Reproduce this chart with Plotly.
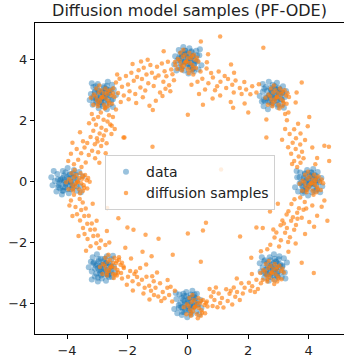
import plotly.graph_objects as go

# ---- data points (blue, 8 Gaussian modes): outer ring of each mode ----
data_x = [
 4.02,3.85,4.18,3.92,4.25,3.70,4.10,3.95,4.35,3.62,4.12,3.80,4.00,4.22,3.88,4.30,3.72,4.42,3.55,4.05,3.98,4.28,3.78,4.15,3.60,4.38,4.08,3.90,4.45,3.82,4.20,3.65,
 2.88,2.95,2.75,2.61,3.01,2.78,3.13,3.21,2.81,2.98,2.48,2.45,2.68,2.88,3.08,3.15,3.13,2.95,2.65,3.01,2.38,2.58,2.71,3.25,3.18,2.48,2.78,2.83,2.68,2.55,3.05,2.51,
 -0.02,0.15,-0.18,0.08,-0.25,0.30,-0.10,0.05,-0.35,0.38,-0.12,0.20,0.00,-0.22,0.12,-0.30,0.28,-0.42,0.45,-0.05,0.02,-0.28,0.22,-0.15,0.40,-0.38,-0.08,0.10,-0.45,0.18,-0.20,0.35,
 -2.88,-2.95,-2.75,-2.61,-3.01,-2.78,-3.13,-3.21,-2.81,-2.98,-2.48,-2.45,-2.68,-2.88,-3.08,-3.15,-3.13,-2.95,-2.65,-3.01,-2.38,-2.58,-2.71,-3.25,-3.18,-2.48,-2.78,-2.83,-2.68,-2.55,-3.05,-2.51,
 -4.02,-3.83,-4.21,-3.91,-4.29,-3.65,-4.12,-3.94,-4.40,-3.56,-4.14,-3.77,-4.00,-4.25,-3.86,-4.35,-3.68,-4.48,-3.48,-4.06,-3.98,-4.32,-3.75,-4.17,-3.54,-4.44,-4.09,-3.88,-4.52,-3.79,-4.23,-3.60,
 -2.78,-2.71,-2.91,-3.05,-2.65,-2.88,-2.53,-2.45,-2.85,-2.68,-3.18,-3.21,-2.98,-2.78,-2.58,-2.51,-2.53,-2.71,-3.01,-2.65,-3.28,-3.08,-2.95,-2.41,-2.48,-3.18,-2.88,-2.83,-2.98,-3.11,-2.61,-3.15,
 0.02,-0.15,0.18,-0.08,0.25,-0.30,0.10,-0.05,0.35,-0.38,0.12,-0.20,0.00,0.22,-0.12,0.30,-0.28,0.42,-0.45,0.05,-0.02,0.28,-0.22,0.15,-0.40,0.38,0.08,-0.10,0.45,-0.18,0.20,-0.35,
 2.81,2.98,2.65,2.91,2.58,3.13,2.73,2.88,2.48,3.21,2.71,3.03,2.83,2.61,2.95,2.53,3.11,2.41,3.28,2.78,2.85,2.55,3.05,2.68,3.23,2.45,2.75,2.93,2.38,3.01,2.63,3.18,
]
data_y = [
 0.05,0.12,-0.08,-0.22,0.18,-0.05,0.30,0.38,-0.02,0.15,-0.35,-0.38,-0.15,0.05,0.25,0.32,0.30,0.12,-0.18,0.18,-0.45,-0.25,-0.12,0.42,0.35,-0.35,-0.05,0.00,-0.15,-0.28,0.22,-0.32,
 2.85,2.68,3.01,2.75,3.08,2.53,2.93,2.78,3.18,2.45,2.95,2.63,2.83,3.05,2.71,3.13,2.55,3.25,2.38,2.88,2.81,3.11,2.61,2.98,2.43,3.21,2.91,2.73,3.28,2.65,3.03,2.48,
 4.05,4.12,3.92,3.78,4.18,3.95,4.30,4.38,3.98,4.15,3.65,3.62,3.85,4.05,4.25,4.32,4.30,4.12,3.82,4.18,3.55,3.75,3.88,4.42,4.35,3.65,3.95,4.00,3.85,3.72,4.22,3.68,
 2.81,2.98,2.65,2.91,2.58,3.13,2.73,2.88,2.48,3.21,2.71,3.03,2.83,2.61,2.95,2.53,3.11,2.41,3.28,2.78,2.85,2.55,3.05,2.68,3.23,2.45,2.75,2.93,2.38,3.01,2.63,3.18,
 -0.05,-0.12,0.08,0.22,-0.18,0.05,-0.30,-0.38,0.02,-0.15,0.35,0.38,0.15,-0.05,-0.25,-0.32,-0.30,-0.12,0.18,-0.18,0.45,0.25,0.12,-0.42,-0.35,0.35,0.05,0.00,0.15,0.28,-0.22,0.32,
 -2.85,-2.68,-3.01,-2.75,-3.08,-2.53,-2.93,-2.78,-3.18,-2.45,-2.95,-2.63,-2.83,-3.05,-2.71,-3.13,-2.55,-3.25,-2.38,-2.88,-2.81,-3.11,-2.61,-2.98,-2.43,-3.21,-2.91,-2.73,-3.28,-2.65,-3.03,-2.48,
 -3.95,-3.88,-4.08,-4.22,-3.82,-4.05,-3.70,-3.62,-4.02,-3.85,-4.35,-4.38,-4.15,-3.95,-3.75,-3.68,-3.70,-3.88,-4.18,-3.82,-4.45,-4.25,-4.12,-3.58,-3.65,-4.35,-4.05,-4.00,-4.15,-4.28,-3.78,-4.32,
 -2.88,-2.95,-2.75,-2.61,-3.01,-2.78,-3.13,-3.21,-2.81,-2.98,-2.48,-2.45,-2.68,-2.88,-3.08,-3.15,-3.13,-2.95,-2.65,-3.01,-2.38,-2.58,-2.71,-3.25,-3.18,-2.48,-2.78,-2.83,-2.68,-2.55,-3.05,-2.51,
]

# ---- data points (blue): dense core of each mode ----
core_x = [
 4.00,4.10,3.90,4.05,3.82,4.20,3.95,4.15,3.75,4.25,3.88,4.12,3.80,4.30,4.00,3.92,4.08,3.70,4.22,3.85,
 2.93,2.78,2.75,3.05,2.95,2.93,2.58,2.63,2.81,2.73,3.11,2.98,2.65,2.88,2.71,2.88,3.13,2.98,2.53,2.51,
 0.00,-0.10,0.10,-0.05,0.18,-0.20,0.05,-0.15,0.25,-0.25,0.12,-0.12,0.20,-0.30,0.00,0.08,-0.08,0.30,-0.22,0.15,
 -2.83,-2.93,-2.73,-2.88,-2.65,-3.03,-2.78,-2.98,-2.58,-3.08,-2.71,-2.95,-2.63,-3.13,-2.83,-2.75,-2.91,-2.53,-3.05,-2.68,
 -4.10,-3.95,-3.92,-4.22,-4.12,-4.10,-3.75,-3.80,-3.98,-3.90,-4.28,-4.15,-3.82,-4.05,-3.88,-4.05,-4.30,-4.15,-3.70,-3.68,
 -2.83,-2.73,-2.93,-2.78,-3.01,-2.63,-2.88,-2.68,-3.08,-2.58,-2.95,-2.71,-3.03,-2.53,-2.83,-2.91,-2.75,-3.13,-2.61,-2.98,
 0.00,0.10,-0.10,0.05,-0.18,0.20,-0.05,0.15,-0.25,0.25,-0.12,0.12,-0.20,0.30,0.00,-0.08,0.08,-0.30,0.22,-0.15,
 2.93,2.78,2.75,3.05,2.95,2.93,2.58,2.63,2.81,2.73,3.11,2.98,2.65,2.88,2.71,2.88,3.13,2.98,2.53,2.51,
]
core_y = [
 0.10,-0.05,-0.08,0.22,0.12,0.10,-0.25,-0.20,-0.02,-0.10,0.28,0.15,-0.18,0.05,-0.12,0.05,0.30,0.15,-0.30,-0.32,
 2.83,2.93,2.73,2.88,2.65,3.03,2.78,2.98,2.58,3.08,2.71,2.95,2.63,3.13,2.83,2.75,2.91,2.53,3.05,2.68,
 4.10,3.95,3.92,4.22,4.12,4.10,3.75,3.80,3.98,3.90,4.28,4.15,3.82,4.05,3.88,4.05,4.30,4.15,3.70,3.68,
 2.73,2.88,2.91,2.61,2.71,2.73,3.08,3.03,2.85,2.93,2.55,2.68,3.01,2.78,2.95,2.78,2.53,2.68,3.13,3.15,
 0.00,0.10,-0.10,0.05,-0.18,0.20,-0.05,0.15,-0.25,0.25,-0.12,0.12,-0.20,0.30,0.00,-0.08,0.08,-0.30,0.22,-0.15,
 -2.73,-2.88,-2.91,-2.61,-2.71,-2.73,-3.08,-3.03,-2.85,-2.93,-2.55,-2.68,-3.01,-2.78,-2.95,-2.78,-2.53,-2.68,-3.13,-3.15,
 -4.10,-3.95,-3.92,-4.22,-4.12,-4.10,-3.75,-3.80,-3.98,-3.90,-4.28,-4.15,-3.82,-4.05,-3.88,-4.05,-4.30,-4.15,-3.70,-3.68,
 -2.83,-2.73,-2.93,-2.78,-3.01,-2.63,-2.88,-2.68,-3.08,-2.58,-2.95,-2.71,-3.03,-2.53,-2.83,-2.91,-2.75,-3.13,-2.61,-2.98,
]

# ---- diffusion samples (orange) ----
samp_x = [
 # near the modes
 4.08,4.23,3.96,4.28,3.90,4.13,4.38,3.80,4.18,4.03,4.33,3.88,4.40,3.78,4.16,3.98,4.48,3.70,4.26,3.93,
 4.13,4.00,4.20,3.86,4.26,4.03,4.30,3.93,4.08,4.43,
 2.95,3.10,2.83,3.15,2.77,3.00,3.25,2.67,3.05,2.90,3.20,2.75,3.27,2.65,3.03,2.85,3.35,2.57,3.13,2.80,
 3.00,2.87,3.07,2.73,3.13,2.90,3.17,2.80,2.95,3.30,
 -0.05,0.10,-0.17,0.15,-0.23,0.00,0.25,-0.33,0.05,-0.10,0.20,-0.25,0.27,-0.35,0.03,-0.15,0.35,-0.43,0.13,-0.20,
 0.00,-0.13,0.07,-0.27,0.13,-0.10,0.17,-0.20,-0.05,0.30,
 -2.83,-2.68,-2.95,-2.63,-3.01,-2.78,-2.53,-3.11,-2.73,-2.88,-2.58,-3.03,-2.51,-3.13,-2.75,-2.93,-2.43,-3.21,-2.65,-2.98,
 -2.78,-2.91,-2.71,-3.05,-2.65,-2.88,-2.61,-2.98,-2.83,-2.48,
 -3.65,-3.50,-3.77,-3.45,-3.83,-3.60,-3.35,-3.93,-3.55,-3.70,-3.40,-3.85,-3.33,-3.95,-3.57,-3.75,-3.25,-4.03,-3.47,-3.80,
 -3.60,-3.73,-3.53,-3.87,-3.47,-3.70,-3.43,-3.80,-3.65,-3.30,
 -2.53,-2.38,-2.65,-2.33,-2.71,-2.48,-2.23,-2.81,-2.43,-2.58,-2.28,-2.73,-2.21,-2.83,-2.45,-2.63,-2.13,-2.91,-2.35,-2.68,
 -2.48,-2.61,-2.41,-2.75,-2.35,-2.58,-2.31,-2.68,-2.53,-2.18,
 0.25,0.40,0.13,0.45,0.07,0.30,0.55,-0.03,0.35,0.20,0.50,0.05,0.57,-0.05,0.33,0.15,0.65,-0.13,0.43,0.10,
 0.30,0.17,0.37,0.03,0.43,0.20,0.47,0.10,0.25,0.60,
 2.78,2.93,2.66,2.98,2.60,2.83,3.08,2.50,2.88,2.73,3.03,2.58,3.10,2.48,2.86,2.68,3.18,2.40,2.96,2.63,
 2.83,2.70,2.90,2.56,2.96,2.73,3.00,2.63,2.78,3.13,
 # top-left arc
 -2.47,-2.38,-2.31,-2.26,-2.18,-2.12,-2.05,-1.98,-1.93,-1.87,-1.79,-1.74,-1.68,-1.63,-1.57,-1.52,-1.46,-1.41,-1.37,-1.31,
 -1.24,-1.19,-1.13,-1.08,-1.02,-0.97,-0.92,-0.86,-0.81,-0.77,-0.71,-0.66,-0.62,-0.55,-0.51,-0.46,-0.41,-2.22,-1.96,-1.71,
 -1.49,-1.27,-1.06,-0.84,-0.58,-2.34,-1.83,-1.55,-1.16,-0.74,
 -1.33,-0.80,0.43,0.67,1.07,2.50,-1.17,-2.10,
 # left upper band
 -2.73,-2.88,-2.61,-2.97,-2.79,-2.66,-3.04,-2.86,-2.57,-3.13,-2.92,-2.71,-3.22,-3.01,-2.83,-3.33,-3.08,-2.87,-3.42,-3.17,
 -2.97,-3.53,-3.28,-3.07,-3.63,-3.38,-3.77,-3.52,-3.87,-3.96,-3.68,-3.47,-2.48,-2.53,-2.69,-2.42,-3.27,-3.57,-3.18,-2.93,
 -2.72,-3.82,-2.38,-2.13,-2.52,-3.12,-2.78,-2.99,
 # left lower band
 -3.77,-3.58,-3.87,-3.48,-3.72,-3.53,-3.38,-3.67,-3.43,-3.28,-3.57,-3.33,-3.18,-3.47,-3.23,-3.08,-3.42,-3.13,-2.98,-3.32,
 -3.03,-2.88,-3.22,-2.93,-3.37,-2.73,-3.82,-3.02,-2.68,-3.62,-3.92,-3.15,
 # interior lower-left
 -2.67,-2.00,-1.80,-1.40,-0.97,0.00,-2.07,-1.50,-1.20,-2.30,-2.60,-0.50,0.43,0.60,0.50,
 # bottom-left band
 -2.12,-1.98,-1.91,-1.83,-1.77,-1.63,-1.58,-1.52,-1.43,-1.37,-1.28,-1.22,-1.13,-1.07,-0.98,-0.92,-0.83,-0.77,-0.68,-0.62,
 -0.52,-0.43,-2.18,-1.82,-1.38,-1.02,-2.28,-1.88,-1.27,-0.67,-2.02,-1.68,-1.47,-1.12,-0.88,-2.40,-1.72,-1.18,-0.57,
 # bottom-right band
 0.63,0.77,0.82,0.88,1.02,1.07,1.13,1.27,1.32,1.38,1.52,1.57,1.63,1.77,1.82,1.88,2.02,2.07,2.13,2.27,
 2.32,2.42,1.18,0.93,1.62,2.12,0.72,1.47,0.98,1.72,2.22,1.42,0.85,
 # right lower band
 3.72,3.53,3.87,3.43,3.68,3.92,3.33,3.62,3.27,3.48,3.77,3.13,3.42,3.58,3.07,3.28,3.52,2.93,3.22,3.38,
 2.87,3.08,3.32,2.73,3.02,3.57,2.63,4.12,4.28,4.52,4.18,4.02,2.48,2.72,3.88,2.42,4.62,2.98,3.33,3.77,
 4.17,2.10,1.73,2.27,4.43,4.20,3.63,3.18,3.83,2.83,
 # right upper band
 3.62,3.73,3.52,3.83,3.67,3.42,3.78,3.57,3.32,3.72,3.47,3.88,3.58,3.37,3.73,3.52,3.22,4.12,4.28,4.52,
 4.22,3.97,3.28,4.68,3.12,3.22,4.02,4.67,3.45,3.65,
 # top-right band
 0.42,0.48,0.62,0.68,0.77,0.83,0.97,1.02,1.08,1.22,1.27,1.33,1.47,1.52,1.58,1.72,1.78,1.87,1.93,2.07,
 2.13,2.27,0.32,0.18,0.57,1.07,1.42,0.82,1.88,0.37,0.12,0.63,1.53,1.43,3.77,3.60,3.57,3.33,2.60,2.60,
 1.50,2.00,0.50,0.00,1.10,2.35,0.90,
]
samp_y = [
 -0.05,0.05,0.10,-0.17,-0.15,-0.30,0.00,0.03,0.23,-0.10,0.17,0.23,-0.27,-0.30,-0.43,0.33,-0.05,-0.07,-0.35,-0.35,
 0.07,-0.20,-0.10,-0.03,0.13,0.17,-0.25,-0.27,-0.05,0.07,
 2.78,2.88,2.93,2.66,2.68,2.53,2.83,2.86,3.06,2.73,3.00,3.06,2.56,2.53,2.40,3.16,2.78,2.76,2.48,2.48,
 2.90,2.63,2.73,2.80,2.96,3.00,2.58,2.56,2.78,2.90,
 3.95,4.05,4.10,3.83,3.85,3.70,4.00,4.03,4.23,3.90,4.17,4.23,3.73,3.70,3.57,4.33,3.95,3.93,3.65,3.65,
 4.07,3.80,3.90,3.97,4.13,4.17,3.75,3.73,3.95,4.07,
 2.78,2.88,2.93,2.66,2.68,2.53,2.83,2.86,3.06,2.73,3.00,3.06,2.56,2.53,2.40,3.16,2.78,2.76,2.48,2.48,
 2.90,2.63,2.73,2.80,2.96,3.00,2.58,2.56,2.78,2.90,
 0.00,0.10,0.15,-0.12,-0.10,-0.25,0.05,0.08,0.28,-0.05,0.22,0.28,-0.22,-0.25,-0.38,0.38,0.00,-0.02,-0.30,-0.30,
 0.12,-0.15,-0.05,0.02,0.18,0.22,-0.20,-0.22,0.00,0.12,
 -2.78,-2.68,-2.63,-2.90,-2.88,-3.03,-2.73,-2.70,-2.50,-2.83,-2.56,-2.50,-3.00,-3.03,-3.16,-2.40,-2.78,-2.80,-3.08,-3.08,
 -2.66,-2.93,-2.83,-2.76,-2.60,-2.56,-2.98,-3.00,-2.78,-2.66,
 -4.10,-4.00,-3.95,-4.22,-4.20,-4.35,-4.05,-4.02,-3.82,-4.15,-3.88,-3.82,-4.32,-4.35,-4.48,-3.72,-4.10,-4.12,-4.40,-4.40,
 -3.98,-4.25,-4.15,-4.08,-3.92,-3.88,-4.30,-4.32,-4.10,-3.98,
 -2.98,-2.88,-2.83,-3.10,-3.08,-3.23,-2.93,-2.90,-2.70,-3.03,-2.76,-2.70,-3.20,-3.23,-3.36,-2.60,-2.98,-3.00,-3.28,-3.28,
 -2.86,-3.13,-3.03,-2.96,-2.80,-2.76,-3.18,-3.20,-2.98,-2.86,
 # top-left arc
 3.07,3.26,2.91,3.38,3.12,2.83,3.47,3.19,2.97,3.58,3.31,2.88,3.44,3.66,3.09,3.37,3.74,2.99,3.52,3.23,
 3.83,3.58,3.14,3.41,3.77,3.49,2.93,3.88,3.28,3.63,3.46,3.94,3.17,3.68,3.53,3.33,3.82,2.62,2.71,2.58,
 2.77,2.49,2.66,2.81,2.97,3.52,3.86,3.95,2.35,3.05,
 4.00,4.28,4.60,4.18,4.77,4.40,1.15,1.45,
 # left upper band
 2.43,2.27,2.18,2.12,2.03,1.98,1.87,1.77,1.88,1.67,1.58,1.69,1.47,1.43,1.37,1.27,1.23,1.17,1.12,1.02,
 0.97,0.93,0.88,0.77,0.72,0.63,0.57,0.48,0.92,0.68,1.07,1.33,2.12,1.57,1.26,1.73,1.92,1.62,2.22,0.62,
 0.93,1.28,2.37,1.45,1.84,2.05,1.52,1.32,
 # left lower band
 -0.43,-0.57,-0.62,-0.68,-0.83,-0.93,-0.88,-1.07,-1.13,-1.12,-1.27,-1.38,-1.37,-1.52,-1.58,-1.57,-1.72,-1.78,-1.77,-1.88,
 -2.02,-1.93,-2.12,-2.18,-2.27,-2.08,-1.13,-1.28,-1.62,-1.78,-0.78,-0.72,
 # interior lower-left
 -0.86,-1.50,-1.58,-1.74,-1.87,-1.70,-2.17,-2.30,-2.45,-1.20,-2.00,-2.40,-2.63,-1.35,-1.60,
 # bottom-left band
 -2.83,-3.12,-2.93,-3.27,-3.03,-3.37,-2.83,-3.22,-3.48,-3.12,-3.42,-3.58,-3.27,-3.48,-3.77,-3.33,-3.62,-3.83,-3.48,-3.72,
 -3.93,-3.58,-3.18,-3.57,-2.72,-2.98,-2.48,-2.52,-3.87,-3.23,-3.38,-3.13,-3.67,-3.72,-3.92,-3.05,-2.95,-3.10,-3.45,
 # bottom-right band
 -3.93,-3.77,-4.08,-3.88,-3.67,-3.98,-3.82,-3.53,-3.92,-3.68,-3.47,-3.78,-3.62,-3.33,-3.67,-3.48,-3.32,-3.58,-3.43,-3.22,
 -3.52,-3.33,-4.13,-3.47,-3.18,-3.03,-3.52,-4.03,-4.12,-3.88,-3.62,-3.58,-3.62,
 # right lower band
 -0.52,-0.58,-0.67,-0.73,-0.87,-0.88,-0.97,-1.02,-1.08,-1.17,-1.18,-1.27,-1.28,-1.42,-1.43,-1.52,-1.58,-1.67,-1.68,-1.82,
 -1.83,-1.92,-1.98,-2.07,-2.13,-2.03,-2.22,-0.78,-1.12,-0.62,-1.48,-1.32,-1.52,-0.98,-1.72,-2.28,-1.28,-0.72,-2.30,-2.66,
 -3.00,-2.50,-1.80,-1.50,-0.82,-0.03,-1.22,-1.37,-0.92,-1.57,
 # right upper band
 0.48,0.62,0.68,0.77,0.83,0.92,0.98,1.07,1.13,1.22,1.28,1.37,1.43,1.57,1.58,1.72,1.73,1.12,0.78,1.18,
 0.57,1.82,2.02,0.68,1.38,2.22,2.12,1.15,0.58,1.90,
 # top-right band
 3.62,3.38,3.72,3.23,3.57,3.42,3.13,3.62,3.28,3.47,3.08,3.37,3.18,2.93,3.32,3.08,2.88,3.27,3.03,2.87,
 3.13,2.93,3.28,3.52,3.03,2.83,2.62,2.73,2.57,2.88,3.18,3.92,3.58,3.85,3.26,2.93,2.60,2.27,1.45,2.04,
 2.43,2.27,2.53,2.20,0.40,3.20,3.00,
]

title_text = "Diffusion model samples (PF-ODE)"
tick_vals = [-4, -2, 0, 2, 4]

fig = go.Figure()
fig.add_trace(go.Scatter(
    x=data_x + core_x, y=data_y + core_y, mode="markers", name="data",
    marker=dict(color="#1f77b4", size=6, opacity=0.45, line=dict(width=0)),
))
fig.add_trace(go.Scatter(
    x=samp_x, y=samp_y, mode="markers", name="diffusion samples",
    marker=dict(color="#ff7f0e", size=4.5, opacity=0.65, line=dict(width=0)),
))

axis_common = dict(
    showgrid=False, zeroline=False, showline=True, linecolor="black", linewidth=1,
    mirror=True, ticks="outside", ticklen=4, tickcolor="black",
    tickfont=dict(family="DejaVu Sans", size=13, color="#222"),
    tickvals=tick_vals,
)
fig.update_xaxes(range=[-5.06, 5.17], **axis_common)
fig.update_yaxes(range=[-5.0, 5.21], **axis_common)

fig.update_layout(
    width=344, height=362,
    margin=dict(l=35, r=0, t=23, b=28),
    plot_bgcolor="white", paper_bgcolor="white",
    title=dict(text=title_text, xref="paper", x=0.5, xanchor="center",
               yref="container", y=0.988, yanchor="top",
               font=dict(family="DejaVu Sans", size=16, color="#222")),
    legend=dict(x=0.2265, y=0.575, xanchor="left", yanchor="top",
                bgcolor="rgba(255,255,255,0.8)", bordercolor="#d0d0d0", borderwidth=1,
                font=dict(family="DejaVu Sans", size=14, color="#222")),
    showlegend=True,
)

fig.write_html("out.html", config={"displayModeBar": False},
               post_script="document.body.style.margin='0px';")
